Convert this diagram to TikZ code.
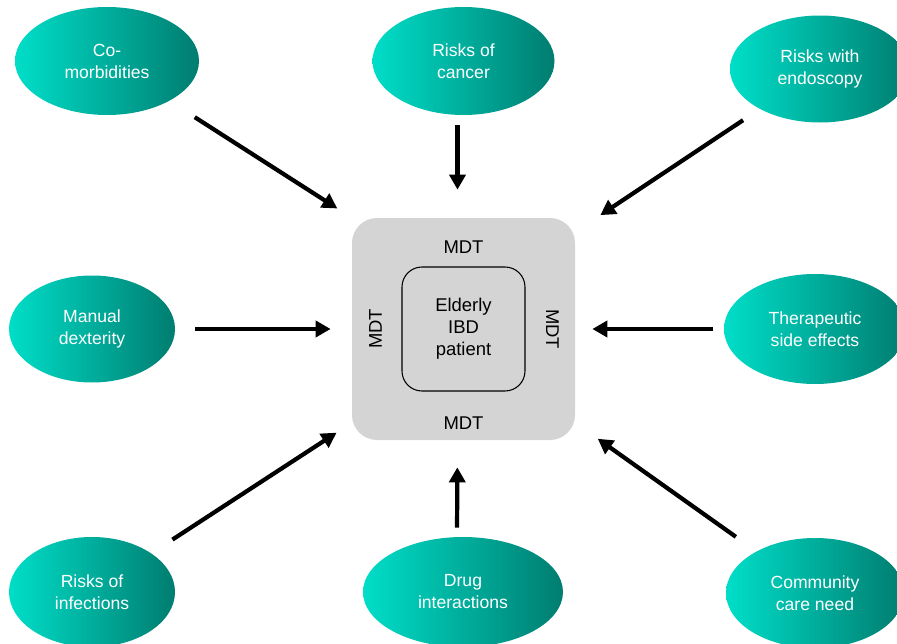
\documentclass[tikz,border=0pt]{standalone}
\usepackage{fontspec}
\setmainfont{Liberation Sans}
\usepackage{tikz}
\usetikzlibrary{shapes.geometric,arrows.meta,positioning}
\definecolor{tealL}{HTML}{00DEC8}
\definecolor{tealD}{HTML}{007D70}
\definecolor{boxgray}{HTML}{D4D4D4}

\begin{document}
\begin{tikzpicture}[
      risk/.style={ellipse,inner sep=0pt,minimum width=3.64cm,minimum height=2.16cm,
        left color=tealL,right color=tealD,text=white,align=center,
        font=\fontsize{10}{12.5}\selectfont},
      lbl/.style={font=\fontsize{10.5}{12.5}\selectfont},
      arr/.style={line width=2.4pt,-{Triangle[length=0.3cm,width=0.32cm]}}]
      \useasboundingbox (0,0) rectangle (17.94,12.86);
      \node[fill=boxgray,rounded corners=0.5cm,minimum width=4.46cm,minimum height=4.44cm](mdt) at (9.27,6.28) {};
      \node[lbl,draw,line width=0.6pt,rounded corners=0.4cm,minimum width=2.46cm,minimum height=2.48cm,align=center](pat) at (mdt) {Elderly\\IBD\\patient};
      \node[lbl](mdtn) at ([yshift=-0.6cm]mdt.north) {MDT};
      \node[lbl](mdts) at ([yshift=0.34cm]mdt.south) {MDT};
      \node[lbl,rotate=90](mdtw) at ([xshift=0.48cm]mdt.west) {MDT};
      \node[lbl,rotate=-90](mdte) at ([xshift=-0.46cm]mdt.east) {MDT};
      \node[risk,minimum width=3.68cm](como) at (2.14,11.64) {Co-\\morbidities};
      \node[risk](cancer) at (9.27,11.64) {Risks of\\cancer};
      \node[risk,minimum width=3.6cm,minimum height=2.14cm](endo) at (16.4,11.48) {Risks with\\endoscopy};
      \node[risk,minimum width=3.32cm,minimum height=2.14cm](manual) at (1.84,6.28) {Manual\\dexterity};
      \node[risk,minimum height=2.2cm](thera) at (16.3,6.28) {Therapeutic\\side effects};
      \node[risk,minimum width=3.32cm,minimum height=2.2cm](infect) at (1.84,1.02) {Risks of\\infections};
      \node[risk,minimum width=4cm,minimum height=2.2cm](drug) at (9.26,1.02) {Drug\\interactions};
      \node[risk,minimum width=3.56cm,minimum height=2.2cm](care) at (16.3,1.0) {Community\\care need};
      \draw[arr,shorten <=0.6cm,shorten >=0.34cm] (como) -- (mdt.north west);
      \draw[arr,shorten <=0.2cm,shorten >=0.56cm] ([xshift=-0.12cm]cancer.south) -- ([xshift=-0.12cm]mdt.north);
      \draw[arr,shorten <=0.4cm,shorten >=0.6cm] (endo) -- (mdt.41);
      \draw[arr,shorten <=0.4cm,shorten >=0.42cm] (manual) -- (mdt);
      \draw[arr,shorten <=0.22cm,shorten >=0.34cm] (thera) -- (mdt);
      \draw[arr,shorten <=0.5cm,shorten >=0.36cm] (infect) -- (mdt.220);
      \draw[arr,shorten <=0.18cm,shorten >=0.54cm] ([xshift=-0.12cm]drug.north) -- ([xshift=-0.12cm]mdt.south);
      \draw[arr,shorten <=0.5cm,shorten >=0.55cm] (care) -- (mdt.320);
    \end{tikzpicture}
\end{document}
